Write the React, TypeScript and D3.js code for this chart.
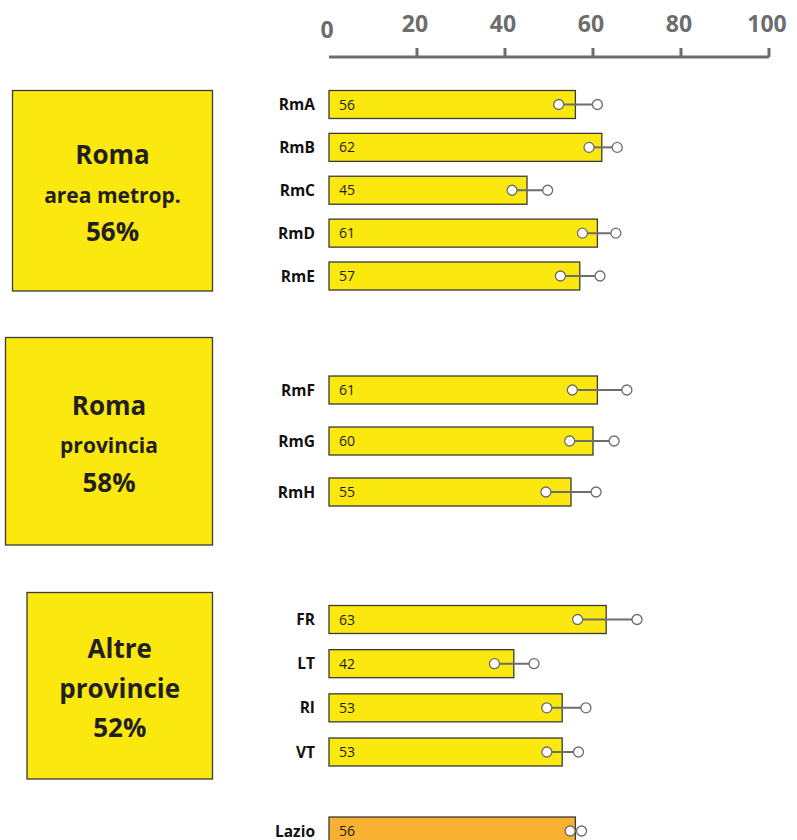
import React from "react";
import * as d3 from "d3";

const groupTitles = [
  ["Roma", "area metrop.", "56%"],
  ["Roma", "provincia", "58%"],
  ["Altre", "provincie", "52%"],
];
const group1 = ["RmA", "RmB", "RmC", "RmD", "RmE"];
const group2 = ["RmF", "RmG", "RmH"];
const group3 = ["FR", "LT", "RI", "VT"];
const totalLabel = ["Lazio"];

const values1 = [56, 62, 45, 61, 57];
const values2 = [61, 60, 55];
const values3 = [63, 42, 53, 53];
const totalValue = [56];

const low1 = [52.2, 59.1, 41.6, 57.6, 52.6];
const high1 = [61.0, 65.5, 49.7, 65.2, 61.6];
const low2 = [55.3, 54.7, 49.3];
const high2 = [67.7, 64.8, 60.7];
const low3 = [56.5, 37.6, 49.5, 49.5];
const high3 = [70.0, 46.6, 58.4, 56.7];
const totalLow = [54.8];
const totalHigh = [57.4];

const ticks = [0, 20, 40, 60, 80, 100];

const FONT = "'Open Sans', 'Noto Sans', sans-serif";
const YELLOW = "#FAE80F";
const ORANGE = "#F8B133";
const GRAY = "#6d6d6d";
const DARK = "#231f20";

export default function App() {
  const x = d3.scaleLinear().domain([0, 100]).range([329, 769]);

  const groups = [
    { cats: group1, vals: values1, lo: low1, hi: high1, y: d3.scalePoint().domain(group1).range([104.5, 276]), fill: YELLOW },
    { cats: group2, vals: values2, lo: low2, hi: high2, y: d3.scalePoint().domain(group2).range([390, 492]), fill: YELLOW },
    { cats: group3, vals: values3, lo: low3, hi: high3, y: d3.scalePoint().domain(group3).range([619.5, 752]), fill: YELLOW },
    { cats: totalLabel, vals: totalValue, lo: totalLow, hi: totalHigh, y: d3.scalePoint().domain(totalLabel).range([831, 831]), fill: ORANGE },
  ];

  const boxes = [
    { x0: 12.5, x1: 212.5, y0: 90.5, y1: 291, lines: groupTitles[0], sizes: [26, 21, 26], base: [164, 203, 241] },
    { x0: 5.5, x1: 212.5, y0: 337.5, y1: 545, lines: groupTitles[1], sizes: [26, 21, 26], base: [415, 453, 492] },
    { x0: 27, x1: 212.5, y0: 592.5, y1: 779, lines: groupTitles[2], sizes: [26, 26, 26], base: [658, 698, 737] },
  ];

  const barH = 28;

  return (
    <svg
      width={797}
      height={840}
      style={{ position: "absolute", left: 0, top: 0, display: "block", background: "#fff" }}
      fontFamily={FONT}
    >
      {/* axis */}
      <line x1={x(0)} x2={x(100)} y1={57} y2={57} stroke={GRAY} strokeWidth={3} />
      {ticks.map((t) => (
        <g key={t}>
          {t > 0 && <line x1={x(t)} x2={x(t)} y1={48} y2={57} stroke={GRAY} strokeWidth={3} />}
          <text
            x={x(t) - 2}
            y={t === 0 ? 38 : 32}
            textAnchor="middle"
            fontSize={23}
            fontWeight={700}
            fill={GRAY}
          >
            {t}
          </text>
        </g>
      ))}

      {/* group boxes */}
      {boxes.map((b, i) => (
        <g key={i}>
          <rect x={b.x0} y={b.y0} width={b.x1 - b.x0} height={b.y1 - b.y0} fill={YELLOW} stroke="#3a3a3a" strokeWidth={1.3} />
          {b.lines.map((l, j) => (
            <text key={j} x={(b.x0 + b.x1) / 2} y={b.base[j]} textAnchor="middle" fontSize={b.sizes[j]} fontWeight={700} fill={DARK}>
              {l}
            </text>
          ))}
        </g>
      ))}

      {/* bars */}
      {groups.map((g, gi) =>
        g.cats.map((c, i) => {
          const cy = g.y(c) as number;
          return (
            <g key={gi + c}>
              <text x={315} y={cy + 5.5} textAnchor="end" fontSize={15.5} fontWeight={700} fill="#111">
                {c}
              </text>
              <rect x={x(0)} y={cy - barH / 2} width={x(g.vals[i]) - x(0)} height={barH} fill={g.fill} stroke="#3a3a3a" strokeWidth={1.3} />
              <text x={x(0) + 10} y={cy + 5} fontSize={14} fill={DARK}>
                {g.vals[i]}
              </text>
              <line x1={x(g.lo[i])} x2={x(g.hi[i])} y1={cy} y2={cy} stroke={GRAY} strokeWidth={2} />
              <circle cx={x(g.lo[i])} cy={cy} r={5} fill="#fff" stroke={GRAY} strokeWidth={1.3} />
              <circle cx={x(g.hi[i])} cy={cy} r={5} fill="#fff" stroke={GRAY} strokeWidth={1.3} />
            </g>
          );
        })
      )}
    </svg>
  );
}
